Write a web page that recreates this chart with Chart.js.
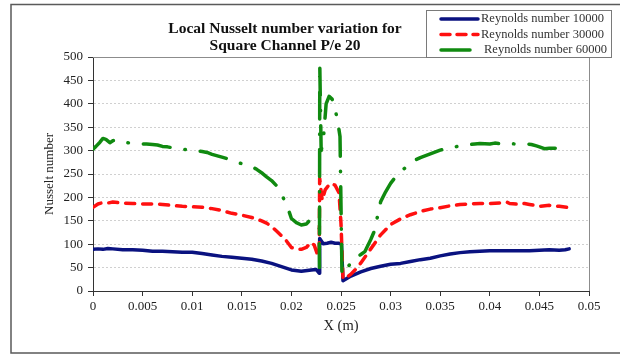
<!DOCTYPE html>
<html>
<head>
<meta charset="utf-8">
<script src="https://cdn.jsdelivr.net/npm/chart.js@4.4.1/dist/chart.umd.min.js"></script>
<style>
  html, body { margin: 0; padding: 0; background: #fff; }
  #wrap { width: 620px; height: 356px; }
</style>
</head>
<body>
<div id="wrap"><canvas id="nusseltChart" width="620" height="356"></canvas></div>
<script>
// ── Local Nusselt number along the channel, P/e = 20 ──────────
const seriesLabels = ['Reynolds number 10000', 'Reynolds number 30000', 'Reynolds number 60000'];

// Re = 10000
const x10 = [0, 0.0005, 0.001, 0.0015, 0.002, 0.003, 0.004, 0.005, 0.006, 0.007, 0.008, 0.009, 0.010, 0.011,
  0.012, 0.013, 0.014, 0.015, 0.016, 0.017, 0.018, 0.019, 0.020, 0.021, 0.022, 0.0225, 0.0228, 0.02285, 0.0232,
  0.0236, 0.024, 0.0244, 0.0248, 0.02505, 0.0252, 0.026, 0.027, 0.028, 0.029, 0.030, 0.031, 0.032, 0.033, 0.034,
  0.035, 0.036, 0.037, 0.038, 0.039, 0.040, 0.041, 0.042, 0.043, 0.044, 0.045, 0.046, 0.047, 0.0476, 0.048];
const nu10 = [89, 90, 89, 91, 90, 88, 88, 87, 85, 85, 84, 83, 83, 80,
  77, 74, 72, 70, 68, 64, 59, 52, 45, 42, 45, 46, 38, 112, 101,
  102, 104, 102, 102, 100, 22, 32, 41, 48, 53, 57, 59, 63, 67, 70,
  75, 79, 82, 84, 85, 86, 86, 86, 86, 86, 87, 88, 87, 88, 90];

// Re = 30000
const x30 = [0, 0.0005, 0.001, 0.0015, 0.002, 0.003, 0.004, 0.005, 0.006, 0.007, 0.008, 0.009, 0.010, 0.011,
  0.012, 0.013, 0.014, 0.015, 0.016, 0.017, 0.0175, 0.018, 0.0185, 0.019, 0.0195, 0.020, 0.0205, 0.021, 0.0215,
  0.022, 0.0223, 0.0226, 0.0228, 0.02285, 0.0231, 0.0234, 0.0239, 0.0244, 0.0248, 0.0250, 0.0252, 0.0256, 0.026,
  0.0265, 0.027, 0.0275, 0.028, 0.029, 0.030, 0.031, 0.032, 0.033, 0.034, 0.035, 0.036, 0.037, 0.038, 0.039,
  0.040, 0.041, 0.0417, 0.042, 0.043, 0.0435, 0.044, 0.045, 0.046, 0.047, 0.048];
const nu30 = [179, 186, 189, 188, 190, 188, 187, 186, 186, 185, 183, 181, 180, 179,
  176, 172, 166, 162, 157, 150, 145, 138, 128, 118, 107, 93, 90, 89, 93,
  104, 98, 80, 75, 241, 194, 216, 230, 226, 210, 144, 26, 30, 36,
  47, 60, 75, 90, 120, 142, 154, 163, 170, 175, 178, 182, 185, 186, 187,
  187, 188, 190, 187, 185, 187, 185, 181, 183, 181, 178];

// Re = 60000
const x60 = [0, 0.0003, 0.0007, 0.001, 0.0013, 0.0017, 0.002, 0.0023, 0.003, 0.0037, 0.0045, 0.0054, 0.006,
  0.0065, 0.007, 0.0075, 0.008, 0.0084, 0.009, 0.010, 0.011, 0.0115, 0.012, 0.013, 0.014, 0.0144, 0.015, 0.0159,
  0.0165, 0.0171, 0.0175, 0.018, 0.0185, 0.019, 0.0196, 0.020, 0.0205, 0.021, 0.0215, 0.0218, 0.0221, 0.0225,
  0.0228, 0.02283, 0.02286, 0.0230, 0.0232, 0.0233, 0.0235, 0.0238, 0.0241, 0.0244, 0.0247, 0.0249, 0.0251,
  0.0256, 0.0262, 0.027, 0.0274, 0.028, 0.0284, 0.0287, 0.029, 0.0295, 0.030, 0.0304, 0.031, 0.0314, 0.032,
  0.0326, 0.033, 0.034, 0.035, 0.036, 0.037, 0.038, 0.0385, 0.039, 0.040, 0.0405, 0.041, 0.0415, 0.042, 0.0427,
  0.0433, 0.0438, 0.0442, 0.0447, 0.045, 0.0455, 0.046, 0.0468];
const nu60 = [303, 309, 318, 326, 324, 317, 321, 323, 319, 316, 315, 314, 313,
  312, 309, 308, 306, 304, 303, 301, 298, 296, 292, 286, 280, 276, 272, 267,
  260, 251, 244, 236, 225, 207, 180, 155, 146, 141, 143, 150, 137, 136,
  135, 50, 483, 300, 320, 345, 400, 416, 410, 390, 358, 330, 35,
  48, 67, 78, 84, 110, 130, 162, 191, 212, 230, 241, 255, 262, 273,
  281, 285, 293, 301, 306, 310, 313, 314, 315, 314, 316, 315, 316, 315, 314,
  314, 314, 313, 310, 308, 304, 305, 305];

const titleLines = ['Local Nusselt number variation for', 'Square Channel P/e 20'];

const SERIF = '"Liberation Serif", "Times New Roman", serif';
const pts = (xs, ys) => xs.map((x, i) => ({ x, y: ys[i] }));

// line looks shared by the plot and the legend box
const styles = [
  { color: '#0a1280', dash: [] },
  { color: '#ff1010', dash: [9, 8] },
  { color: '#108a10', dash: [27, 15, 0.5, 15] }
];

// ── frame, title, plot border and legend ──────────────────
const decor = {
  id: 'decor',
  beforeDraw(chart) {
    const { ctx, width, height } = chart;
    ctx.save();
    ctx.fillStyle = '#fff';
    ctx.fillRect(0, 0, width, height);
    ctx.strokeStyle = '#5a5a5a';
    ctx.lineWidth = 1.5;
    ctx.beginPath();
    ctx.moveTo(625, 4.5);
    ctx.lineTo(11, 4.5);
    ctx.lineTo(11, 353);
    ctx.lineTo(625, 353);
    ctx.stroke();
    ctx.restore();
  },
  beforeDatasetsDraw(chart) {
    const { ctx, chartArea: a } = chart;
    ctx.save();
    ctx.strokeStyle = '#8c8c8c';
    ctx.lineWidth = 1;
    ctx.beginPath();
    ctx.moveTo(a.left, a.top + 0.5);
    ctx.lineTo(a.right + 0.5, a.top + 0.5);
    ctx.lineTo(a.right + 0.5, a.bottom);
    ctx.stroke();
    ctx.restore();
  },
  afterDraw(chart) {
    const { ctx } = chart;
    ctx.save();

    // title
    ctx.fillStyle = '#111';
    ctx.font = 'bold 15.5px ' + SERIF;
    ctx.textAlign = 'center';
    ctx.textBaseline = 'middle';
    titleLines.forEach((t, i) => ctx.fillText(t, 285, 29 + i * 16.5));

    // legend box
    const bx = 426, by = 10.5, bw = 185, bh = 47;
    ctx.fillStyle = '#fff';
    ctx.fillRect(bx, by, bw, bh);
    ctx.strokeStyle = '#7a7a7a';
    ctx.lineWidth = 1;
    ctx.strokeRect(bx + 0.5, by, bw, bh);

    ctx.font = '12.5px ' + SERIF;
    ctx.textAlign = 'left';
    seriesLabels.forEach((label, i) => {
      const y = by + 8.5 + i * 15.5;
      const s = styles[i];
      ctx.strokeStyle = s.color;
      ctx.lineWidth = 3.5;
      ctx.lineCap = 'round';
      ctx.setLineDash(i === 1 ? [9, 7] : []);
      ctx.beginPath();
      ctx.moveTo(441, y);
      ctx.lineTo(i === 2 ? 470 : 478, y);
      ctx.stroke();
      ctx.setLineDash([]);
      ctx.fillStyle = '#333';
      ctx.fillText(label, i === 2 ? 484 : 481, y);
    });
    ctx.restore();
  }
};

const datasets = [[x10, nu10], [x30, nu30], [x60, nu60]].map(([xs, ys], i) => ({
  label: seriesLabels[i],
  data: pts(xs, ys),
  showLine: true,
  borderColor: styles[i].color,
  backgroundColor: styles[i].color,
  borderWidth: 3.5,
  borderDash: styles[i].dash,
  borderCapStyle: 'round',
  borderJoinStyle: 'round',
  pointRadius: 0,
  tension: 0,
  order: 3 - i
}));

new Chart(document.getElementById('nusseltChart'), {
  type: 'scatter',
  data: { datasets },
  plugins: [decor],
  options: {
    responsive: false,
    animation: false,
    devicePixelRatio: 1,
    layout: { padding: { top: 57, right: 31, left: 0, bottom: 0 } },
    plugins: { legend: { display: false }, tooltip: { enabled: false } },
    scales: {
      x: {
        type: 'linear',
        min: 0,
        max: 0.05,
        afterFit: s => { s.height = 65; },
        ticks: {
          stepSize: 0.005,
          padding: 3,
          color: '#222',
          font: { family: SERIF, size: 13 },
          callback: v => String(+v.toFixed(3))
        },
        grid: { drawOnChartArea: false, tickLength: 5, tickColor: '#333' },
        border: { color: '#333', width: 1 },
        title: {
          display: true,
          text: 'X (m)',
          color: '#222',
          font: { family: SERIF, size: 14.5 },
          padding: { top: 0, bottom: 21 }
        }
      },
      y: {
        min: 0,
        max: 500,
        afterFit: s => { s.width = 93; },
        ticks: {
          stepSize: 50,
          padding: 5,
          color: '#222',
          font: { family: SERIF, size: 13 }
        },
        grid: { color: '#d0d0d0', tickLength: 5, tickColor: '#333', tickBorderDash: [] },
        border: { color: '#333', width: 1, dash: [2, 2] },
        title: {
          display: true,
          text: 'Nusselt number',
          color: '#222',
          font: { family: SERIF, size: 13 },
          padding: { top: 42, bottom: 0 }
        }
      }
    }
  }
});
</script>
</body>
</html>
